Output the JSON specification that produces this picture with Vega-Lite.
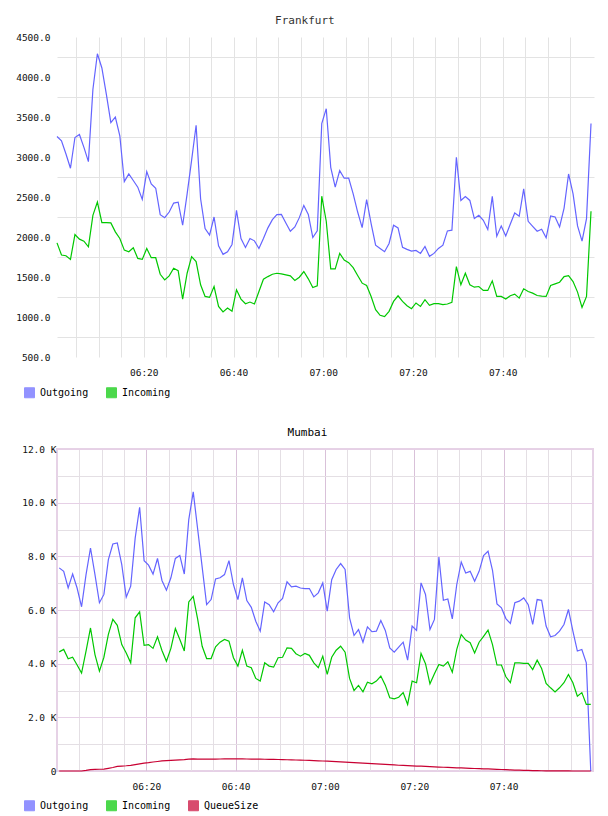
{
  "$schema": "https://vega.github.io/schema/vega-lite/v6.json",
  "background": "white",
  "padding": {"left": 15, "top": 15, "right": 10, "bottom": 10},
  "spacing": 26,
  "resolve": {
    "scale": {"stroke": "independent", "fill": "independent", "x": "independent", "y": "independent"},
    "legend": {"fill": "independent", "stroke": "independent"}
  },
  "config": {
    "font": "DejaVu Sans Mono",
    "view": {"stroke": null},
    "axis": {
      "labelFont": "DejaVu Sans Mono",
      "labelFontSize": 9.5,
      "labelColor": "#111111",
      "ticks": false,
      "domain": false,
      "labelOverlap": false,
      "labelFlush": false
    },
    "title": {
      "font": "DejaVu Sans Mono",
      "fontSize": 11,
      "fontWeight": "normal",
      "anchor": "middle"
    },
    "legend": {
      "orient": "none",
      "direction": "horizontal",
      "symbolType": "square",
      "symbolSize": 100,
      "symbolStrokeColor": "#8c8c8c",
      "symbolStrokeWidth": 1,
      "labelFont": "DejaVu Sans Mono",
      "labelFontSize": 10,
      "labelColor": "#000000",
      "labelOffset": 5
    }
  },
  "vconcat": [
    {
      "title": {"text": "Frankfurt", "color": "#333333", "offset": 6, "frame": "bounds"},
      "width": 537,
      "height": 320,
      "data": {
        "values": [
          {"time": "2024-01-01T06:00:40", "Outgoing": 3256, "Incoming": 1927},
          {"time": "2024-01-01T06:01:40", "Outgoing": 3203, "Incoming": 1774},
          {"time": "2024-01-01T06:02:40", "Outgoing": 3037, "Incoming": 1766},
          {"time": "2024-01-01T06:03:40", "Outgoing": 2859, "Incoming": 1720},
          {"time": "2024-01-01T06:04:40", "Outgoing": 3244, "Incoming": 2031},
          {"time": "2024-01-01T06:05:40", "Outgoing": 3281, "Incoming": 1973},
          {"time": "2024-01-01T06:06:40", "Outgoing": 3120, "Incoming": 1948},
          {"time": "2024-01-01T06:07:40", "Outgoing": 2942, "Incoming": 1878},
          {"time": "2024-01-01T06:08:40", "Outgoing": 3844, "Incoming": 2271},
          {"time": "2024-01-01T06:09:40", "Outgoing": 4291, "Incoming": 2437},
          {"time": "2024-01-01T06:10:40", "Outgoing": 4113, "Incoming": 2180},
          {"time": "2024-01-01T06:11:40", "Outgoing": 3782, "Incoming": 2180},
          {"time": "2024-01-01T06:12:40", "Outgoing": 3430, "Incoming": 2176},
          {"time": "2024-01-01T06:13:40", "Outgoing": 3500, "Incoming": 2064},
          {"time": "2024-01-01T06:14:40", "Outgoing": 3265, "Incoming": 1981},
          {"time": "2024-01-01T06:15:40", "Outgoing": 2693, "Incoming": 1836},
          {"time": "2024-01-01T06:16:40", "Outgoing": 2789, "Incoming": 1816},
          {"time": "2024-01-01T06:17:40", "Outgoing": 2706, "Incoming": 1865},
          {"time": "2024-01-01T06:18:40", "Outgoing": 2623, "Incoming": 1733},
          {"time": "2024-01-01T06:19:40", "Outgoing": 2470, "Incoming": 1720},
          {"time": "2024-01-01T06:20:40", "Outgoing": 2818, "Incoming": 1857},
          {"time": "2024-01-01T06:21:40", "Outgoing": 2664, "Incoming": 1741},
          {"time": "2024-01-01T06:22:40", "Outgoing": 2610, "Incoming": 1741},
          {"time": "2024-01-01T06:23:40", "Outgoing": 2279, "Incoming": 1534},
          {"time": "2024-01-01T06:24:40", "Outgoing": 2242, "Incoming": 1464},
          {"time": "2024-01-01T06:25:40", "Outgoing": 2312, "Incoming": 1514},
          {"time": "2024-01-01T06:26:40", "Outgoing": 2424, "Incoming": 1609},
          {"time": "2024-01-01T06:27:40", "Outgoing": 2436, "Incoming": 1580},
          {"time": "2024-01-01T06:28:40", "Outgoing": 2147, "Incoming": 1224},
          {"time": "2024-01-01T06:29:40", "Outgoing": 2540, "Incoming": 1547},
          {"time": "2024-01-01T06:30:40", "Outgoing": 2960, "Incoming": 1754},
          {"time": "2024-01-01T06:31:40", "Outgoing": 3397, "Incoming": 1692},
          {"time": "2024-01-01T06:32:40", "Outgoing": 2478, "Incoming": 1402},
          {"time": "2024-01-01T06:33:40", "Outgoing": 2106, "Incoming": 1257},
          {"time": "2024-01-01T06:34:40", "Outgoing": 2023, "Incoming": 1245},
          {"time": "2024-01-01T06:35:40", "Outgoing": 2250, "Incoming": 1381},
          {"time": "2024-01-01T06:36:40", "Outgoing": 1890, "Incoming": 1133},
          {"time": "2024-01-01T06:37:40", "Outgoing": 1783, "Incoming": 1063},
          {"time": "2024-01-01T06:38:40", "Outgoing": 1816, "Incoming": 1112},
          {"time": "2024-01-01T06:39:40", "Outgoing": 1907, "Incoming": 1071},
          {"time": "2024-01-01T06:40:40", "Outgoing": 2333, "Incoming": 1340},
          {"time": "2024-01-01T06:41:40", "Outgoing": 1981, "Incoming": 1224},
          {"time": "2024-01-01T06:42:40", "Outgoing": 1870, "Incoming": 1166},
          {"time": "2024-01-01T06:43:40", "Outgoing": 1981, "Incoming": 1187},
          {"time": "2024-01-01T06:44:40", "Outgoing": 1952, "Incoming": 1162},
          {"time": "2024-01-01T06:45:40", "Outgoing": 1857, "Incoming": 1319},
          {"time": "2024-01-01T06:46:40", "Outgoing": 1981, "Incoming": 1472},
          {"time": "2024-01-01T06:47:40", "Outgoing": 2114, "Incoming": 1505},
          {"time": "2024-01-01T06:48:40", "Outgoing": 2217, "Incoming": 1534},
          {"time": "2024-01-01T06:49:40", "Outgoing": 2279, "Incoming": 1547},
          {"time": "2024-01-01T06:50:40", "Outgoing": 2283, "Incoming": 1538},
          {"time": "2024-01-01T06:51:40", "Outgoing": 2176, "Incoming": 1526},
          {"time": "2024-01-01T06:52:40", "Outgoing": 2072, "Incoming": 1514},
          {"time": "2024-01-01T06:53:40", "Outgoing": 2126, "Incoming": 1456},
          {"time": "2024-01-01T06:54:40", "Outgoing": 2242, "Incoming": 1497},
          {"time": "2024-01-01T06:55:40", "Outgoing": 2395, "Incoming": 1568},
          {"time": "2024-01-01T06:56:40", "Outgoing": 2283, "Incoming": 1477},
          {"time": "2024-01-01T06:57:40", "Outgoing": 1994, "Incoming": 1369},
          {"time": "2024-01-01T06:58:40", "Outgoing": 2077, "Incoming": 1390},
          {"time": "2024-01-01T06:59:40", "Outgoing": 3418, "Incoming": 2510},
          {"time": "2024-01-01T07:00:40", "Outgoing": 3604, "Incoming": 2197},
          {"time": "2024-01-01T07:01:40", "Outgoing": 2871, "Incoming": 1601},
          {"time": "2024-01-01T07:02:40", "Outgoing": 2623, "Incoming": 1601},
          {"time": "2024-01-01T07:03:40", "Outgoing": 2830, "Incoming": 1795},
          {"time": "2024-01-01T07:04:40", "Outgoing": 2735, "Incoming": 1712},
          {"time": "2024-01-01T07:05:40", "Outgoing": 2735, "Incoming": 1679},
          {"time": "2024-01-01T07:06:40", "Outgoing": 2540, "Incoming": 1617},
          {"time": "2024-01-01T07:07:40", "Outgoing": 2312, "Incoming": 1518},
          {"time": "2024-01-01T07:08:40", "Outgoing": 2118, "Incoming": 1423},
          {"time": "2024-01-01T07:09:40", "Outgoing": 2466, "Incoming": 1394},
          {"time": "2024-01-01T07:10:40", "Outgoing": 2167, "Incoming": 1257},
          {"time": "2024-01-01T07:11:40", "Outgoing": 1898, "Incoming": 1091},
          {"time": "2024-01-01T07:12:40", "Outgoing": 1857, "Incoming": 1021},
          {"time": "2024-01-01T07:13:40", "Outgoing": 1816, "Incoming": 1004},
          {"time": "2024-01-01T07:14:40", "Outgoing": 1919, "Incoming": 1071},
          {"time": "2024-01-01T07:15:40", "Outgoing": 2147, "Incoming": 1195},
          {"time": "2024-01-01T07:16:40", "Outgoing": 2114, "Incoming": 1265},
          {"time": "2024-01-01T07:17:40", "Outgoing": 1870, "Incoming": 1195},
          {"time": "2024-01-01T07:18:40", "Outgoing": 1845, "Incoming": 1141},
          {"time": "2024-01-01T07:19:40", "Outgoing": 1824, "Incoming": 1104},
          {"time": "2024-01-01T07:20:40", "Outgoing": 1832, "Incoming": 1175},
          {"time": "2024-01-01T07:21:40", "Outgoing": 1795, "Incoming": 1133},
          {"time": "2024-01-01T07:22:40", "Outgoing": 1882, "Incoming": 1216},
          {"time": "2024-01-01T07:23:40", "Outgoing": 1758, "Incoming": 1145},
          {"time": "2024-01-01T07:24:40", "Outgoing": 1795, "Incoming": 1166},
          {"time": "2024-01-01T07:25:40", "Outgoing": 1857, "Incoming": 1166},
          {"time": "2024-01-01T07:26:40", "Outgoing": 1898, "Incoming": 1154},
          {"time": "2024-01-01T07:27:40", "Outgoing": 2076, "Incoming": 1162},
          {"time": "2024-01-01T07:28:40", "Outgoing": 2085, "Incoming": 1183},
          {"time": "2024-01-01T07:29:40", "Outgoing": 2995, "Incoming": 1630},
          {"time": "2024-01-01T07:30:40", "Outgoing": 2457, "Incoming": 1402},
          {"time": "2024-01-01T07:31:40", "Outgoing": 2507, "Incoming": 1547},
          {"time": "2024-01-01T07:32:40", "Outgoing": 2457, "Incoming": 1402},
          {"time": "2024-01-01T07:33:40", "Outgoing": 2230, "Incoming": 1373},
          {"time": "2024-01-01T07:34:40", "Outgoing": 2271, "Incoming": 1381},
          {"time": "2024-01-01T07:35:40", "Outgoing": 2209, "Incoming": 1332},
          {"time": "2024-01-01T07:36:40", "Outgoing": 2093, "Incoming": 1332},
          {"time": "2024-01-01T07:37:40", "Outgoing": 2507, "Incoming": 1452},
          {"time": "2024-01-01T07:38:40", "Outgoing": 2010, "Incoming": 1257},
          {"time": "2024-01-01T07:39:40", "Outgoing": 2139, "Incoming": 1257},
          {"time": "2024-01-01T07:40:40", "Outgoing": 2014, "Incoming": 1224},
          {"time": "2024-01-01T07:41:40", "Outgoing": 2159, "Incoming": 1265},
          {"time": "2024-01-01T07:42:40", "Outgoing": 2300, "Incoming": 1286},
          {"time": "2024-01-01T07:43:40", "Outgoing": 2259, "Incoming": 1236},
          {"time": "2024-01-01T07:44:40", "Outgoing": 2602, "Incoming": 1352},
          {"time": "2024-01-01T07:45:40", "Outgoing": 2196, "Incoming": 1319},
          {"time": "2024-01-01T07:46:40", "Outgoing": 2134, "Incoming": 1298},
          {"time": "2024-01-01T07:47:40", "Outgoing": 2072, "Incoming": 1269},
          {"time": "2024-01-01T07:48:40", "Outgoing": 2097, "Incoming": 1261},
          {"time": "2024-01-01T07:49:40", "Outgoing": 1990, "Incoming": 1257},
          {"time": "2024-01-01T07:50:40", "Outgoing": 2263, "Incoming": 1394},
          {"time": "2024-01-01T07:51:40", "Outgoing": 2250, "Incoming": 1414},
          {"time": "2024-01-01T07:52:40", "Outgoing": 2126, "Incoming": 1435},
          {"time": "2024-01-01T07:53:40", "Outgoing": 2362, "Incoming": 1505},
          {"time": "2024-01-01T07:54:40", "Outgoing": 2788, "Incoming": 1518},
          {"time": "2024-01-01T07:55:40", "Outgoing": 2540, "Incoming": 1443},
          {"time": "2024-01-01T07:56:40", "Outgoing": 2139, "Incoming": 1311},
          {"time": "2024-01-01T07:57:40", "Outgoing": 1948, "Incoming": 1120},
          {"time": "2024-01-01T07:58:40", "Outgoing": 2230, "Incoming": 1257},
          {"time": "2024-01-01T07:59:40", "Outgoing": 3418, "Incoming": 2321}
        ]
      },
      "transform": [{"fold": ["Outgoing", "Incoming"], "as": ["series", "value"]}],
      "encoding": {
        "x": {
          "field": "time",
          "type": "temporal",
          "title": null,
          "scale": {
            "domain": [
              {"year": 2024, "month": 1, "date": 1, "hours": 6, "minutes": 0, "seconds": 40},
              {"year": 2024, "month": 1, "date": 1, "hours": 8, "minutes": 0, "seconds": 20}
            ]
          },
          "axis": {
            "values": [
              {"year": 2024, "month": 1, "date": 1, "hours": 6, "minutes": 5},
              {"year": 2024, "month": 1, "date": 1, "hours": 6, "minutes": 10},
              {"year": 2024, "month": 1, "date": 1, "hours": 6, "minutes": 15},
              {"year": 2024, "month": 1, "date": 1, "hours": 6, "minutes": 20},
              {"year": 2024, "month": 1, "date": 1, "hours": 6, "minutes": 25},
              {"year": 2024, "month": 1, "date": 1, "hours": 6, "minutes": 30},
              {"year": 2024, "month": 1, "date": 1, "hours": 6, "minutes": 35},
              {"year": 2024, "month": 1, "date": 1, "hours": 6, "minutes": 40},
              {"year": 2024, "month": 1, "date": 1, "hours": 6, "minutes": 45},
              {"year": 2024, "month": 1, "date": 1, "hours": 6, "minutes": 50},
              {"year": 2024, "month": 1, "date": 1, "hours": 6, "minutes": 55},
              {"year": 2024, "month": 1, "date": 1, "hours": 7, "minutes": 0},
              {"year": 2024, "month": 1, "date": 1, "hours": 7, "minutes": 5},
              {"year": 2024, "month": 1, "date": 1, "hours": 7, "minutes": 10},
              {"year": 2024, "month": 1, "date": 1, "hours": 7, "minutes": 15},
              {"year": 2024, "month": 1, "date": 1, "hours": 7, "minutes": 20},
              {"year": 2024, "month": 1, "date": 1, "hours": 7, "minutes": 25},
              {"year": 2024, "month": 1, "date": 1, "hours": 7, "minutes": 30},
              {"year": 2024, "month": 1, "date": 1, "hours": 7, "minutes": 35},
              {"year": 2024, "month": 1, "date": 1, "hours": 7, "minutes": 40},
              {"year": 2024, "month": 1, "date": 1, "hours": 7, "minutes": 45},
              {"year": 2024, "month": 1, "date": 1, "hours": 7, "minutes": 50},
              {"year": 2024, "month": 1, "date": 1, "hours": 7, "minutes": 55}
            ],
            "labelExpr": "minutes(datum.value) % 20 == 0 ? timeFormat(datum.value, '%H:%M') : ''",
            "gridColor": "#e3e3e3",
            "labelPadding": 10
          }
        },
        "y": {
          "field": "value",
          "type": "quantitative",
          "title": null,
          "scale": {"domain": [500, 4500], "nice": false, "zero": false},
          "axis": {
            "values": [500, 750, 1000, 1250, 1500, 1750, 2000, 2250, 2500, 2750, 3000, 3250, 3500, 3750, 4000, 4250, 4500],
            "labelExpr": "datum.value % 500 == 0 ? format(datum.value, '.1f') : ''",
            "gridColor": {"condition": {"test": "datum.value % 500 == 0", "value": "transparent"}, "value": "#e3e3e3"},
            "labelPadding": 7
          }
        }
      },
      "layer": [
        {
          "mark": {"type": "line", "strokeWidth": 1.2},
          "encoding": {
            "stroke": {
              "field": "series",
              "type": "nominal",
              "title": null,
              "scale": {"domain": ["Outgoing", "Incoming"], "range": ["#6464ff", "#00c800"]},
              "legend": {"legendX": -33, "legendY": 350, "columnPadding": 15}
            }
          }
        },
        {
          "transform": [{"filter": "false"}],
          "mark": {"type": "square", "filled": true},
          "encoding": {
            "fill": {
              "field": "series",
              "type": "nominal",
              "title": null,
              "scale": {"domain": ["Outgoing", "Incoming"], "range": ["#6464ff", "#00c800"]},
              "legend": {"legendX": -33, "legendY": 350, "columnPadding": 15}
            }
          }
        }
      ]
    },
    {
      "title": {"text": "Mumbai", "color": "#000000", "offset": 6, "frame": "bounds"},
      "width": 536,
      "height": 322,
      "view": {"stroke": "#e6d2e6", "strokeWidth": 2},
      "data": {
        "values": [
          {"time": "2024-01-01T06:00:30", "Outgoing": 7570, "Incoming": 4440, "QueueSize": 0},
          {"time": "2024-01-01T06:01:30", "Outgoing": 7440, "Incoming": 4530, "QueueSize": 0},
          {"time": "2024-01-01T06:02:30", "Outgoing": 6820, "Incoming": 4180, "QueueSize": 0},
          {"time": "2024-01-01T06:03:30", "Outgoing": 7340, "Incoming": 4240, "QueueSize": 0},
          {"time": "2024-01-01T06:04:30", "Outgoing": 6820, "Incoming": 3950, "QueueSize": 0},
          {"time": "2024-01-01T06:05:30", "Outgoing": 6120, "Incoming": 3650, "QueueSize": 0},
          {"time": "2024-01-01T06:06:30", "Outgoing": 7320, "Incoming": 4470, "QueueSize": 20},
          {"time": "2024-01-01T06:07:30", "Outgoing": 8310, "Incoming": 5330, "QueueSize": 50},
          {"time": "2024-01-01T06:08:30", "Outgoing": 7320, "Incoming": 4340, "QueueSize": 60},
          {"time": "2024-01-01T06:09:30", "Outgoing": 6270, "Incoming": 3720, "QueueSize": 65},
          {"time": "2024-01-01T06:10:30", "Outgoing": 6580, "Incoming": 4240, "QueueSize": 70},
          {"time": "2024-01-01T06:11:30", "Outgoing": 7880, "Incoming": 5090, "QueueSize": 100},
          {"time": "2024-01-01T06:12:30", "Outgoing": 8460, "Incoming": 5650, "QueueSize": 130},
          {"time": "2024-01-01T06:13:30", "Outgoing": 8500, "Incoming": 5430, "QueueSize": 170},
          {"time": "2024-01-01T06:14:30", "Outgoing": 7690, "Incoming": 4710, "QueueSize": 185},
          {"time": "2024-01-01T06:15:30", "Outgoing": 6480, "Incoming": 4400, "QueueSize": 195},
          {"time": "2024-01-01T06:16:30", "Outgoing": 6890, "Incoming": 4030, "QueueSize": 210},
          {"time": "2024-01-01T06:17:30", "Outgoing": 8680, "Incoming": 5710, "QueueSize": 240},
          {"time": "2024-01-01T06:18:30", "Outgoing": 9830, "Incoming": 5930, "QueueSize": 265},
          {"time": "2024-01-01T06:19:30", "Outgoing": 7840, "Incoming": 4680, "QueueSize": 290},
          {"time": "2024-01-01T06:20:30", "Outgoing": 7670, "Incoming": 4710, "QueueSize": 310},
          {"time": "2024-01-01T06:21:30", "Outgoing": 7340, "Incoming": 4570, "QueueSize": 335},
          {"time": "2024-01-01T06:22:30", "Outgoing": 7920, "Incoming": 5000, "QueueSize": 355},
          {"time": "2024-01-01T06:23:30", "Outgoing": 7100, "Incoming": 4490, "QueueSize": 375},
          {"time": "2024-01-01T06:24:30", "Outgoing": 6740, "Incoming": 4090, "QueueSize": 385},
          {"time": "2024-01-01T06:25:30", "Outgoing": 7200, "Incoming": 4570, "QueueSize": 395},
          {"time": "2024-01-01T06:26:30", "Outgoing": 7920, "Incoming": 5310, "QueueSize": 405},
          {"time": "2024-01-01T06:27:30", "Outgoing": 8030, "Incoming": 4900, "QueueSize": 415},
          {"time": "2024-01-01T06:28:30", "Outgoing": 7340, "Incoming": 4470, "QueueSize": 425},
          {"time": "2024-01-01T06:29:30", "Outgoing": 9370, "Incoming": 6300, "QueueSize": 440},
          {"time": "2024-01-01T06:30:30", "Outgoing": 10400, "Incoming": 6510, "QueueSize": 450},
          {"time": "2024-01-01T06:31:30", "Outgoing": 9000, "Incoming": 5650, "QueueSize": 445},
          {"time": "2024-01-01T06:32:30", "Outgoing": 7600, "Incoming": 4650, "QueueSize": 440},
          {"time": "2024-01-01T06:33:30", "Outgoing": 6200, "Incoming": 4190, "QueueSize": 440},
          {"time": "2024-01-01T06:34:30", "Outgoing": 6390, "Incoming": 4190, "QueueSize": 440},
          {"time": "2024-01-01T06:35:30", "Outgoing": 7160, "Incoming": 4630, "QueueSize": 445},
          {"time": "2024-01-01T06:36:30", "Outgoing": 7200, "Incoming": 4800, "QueueSize": 448},
          {"time": "2024-01-01T06:37:30", "Outgoing": 7320, "Incoming": 4900, "QueueSize": 450},
          {"time": "2024-01-01T06:38:30", "Outgoing": 7840, "Incoming": 4840, "QueueSize": 452},
          {"time": "2024-01-01T06:39:30", "Outgoing": 6950, "Incoming": 4220, "QueueSize": 455},
          {"time": "2024-01-01T06:40:30", "Outgoing": 6390, "Incoming": 3910, "QueueSize": 452},
          {"time": "2024-01-01T06:41:30", "Outgoing": 7200, "Incoming": 4500, "QueueSize": 450},
          {"time": "2024-01-01T06:42:30", "Outgoing": 6350, "Incoming": 3910, "QueueSize": 448},
          {"time": "2024-01-01T06:43:30", "Outgoing": 6100, "Incoming": 3850, "QueueSize": 445},
          {"time": "2024-01-01T06:44:30", "Outgoing": 5580, "Incoming": 3450, "QueueSize": 442},
          {"time": "2024-01-01T06:45:30", "Outgoing": 5210, "Incoming": 3350, "QueueSize": 440},
          {"time": "2024-01-01T06:46:30", "Outgoing": 6300, "Incoming": 4030, "QueueSize": 438},
          {"time": "2024-01-01T06:47:30", "Outgoing": 6200, "Incoming": 3910, "QueueSize": 435},
          {"time": "2024-01-01T06:48:30", "Outgoing": 5930, "Incoming": 3870, "QueueSize": 432},
          {"time": "2024-01-01T06:49:30", "Outgoing": 6270, "Incoming": 4220, "QueueSize": 428},
          {"time": "2024-01-01T06:50:30", "Outgoing": 6430, "Incoming": 4240, "QueueSize": 425},
          {"time": "2024-01-01T06:51:30", "Outgoing": 7050, "Incoming": 4590, "QueueSize": 420},
          {"time": "2024-01-01T06:52:30", "Outgoing": 6860, "Incoming": 4570, "QueueSize": 415},
          {"time": "2024-01-01T06:53:30", "Outgoing": 6890, "Incoming": 4370, "QueueSize": 410},
          {"time": "2024-01-01T06:54:30", "Outgoing": 6820, "Incoming": 4280, "QueueSize": 405},
          {"time": "2024-01-01T06:55:30", "Outgoing": 6800, "Incoming": 4380, "QueueSize": 400},
          {"time": "2024-01-01T06:56:30", "Outgoing": 6800, "Incoming": 4310, "QueueSize": 393},
          {"time": "2024-01-01T06:57:30", "Outgoing": 6490, "Incoming": 4030, "QueueSize": 386},
          {"time": "2024-01-01T06:58:30", "Outgoing": 6640, "Incoming": 3850, "QueueSize": 379},
          {"time": "2024-01-01T06:59:30", "Outgoing": 7010, "Incoming": 4280, "QueueSize": 372},
          {"time": "2024-01-01T07:00:30", "Outgoing": 5960, "Incoming": 3600, "QueueSize": 365},
          {"time": "2024-01-01T07:01:30", "Outgoing": 7130, "Incoming": 4240, "QueueSize": 358},
          {"time": "2024-01-01T07:02:30", "Outgoing": 7510, "Incoming": 4500, "QueueSize": 350},
          {"time": "2024-01-01T07:03:30", "Outgoing": 7730, "Incoming": 4650, "QueueSize": 340},
          {"time": "2024-01-01T07:04:30", "Outgoing": 7510, "Incoming": 4430, "QueueSize": 330},
          {"time": "2024-01-01T07:05:30", "Outgoing": 5710, "Incoming": 3450, "QueueSize": 320},
          {"time": "2024-01-01T07:06:30", "Outgoing": 5050, "Incoming": 3000, "QueueSize": 310},
          {"time": "2024-01-01T07:07:30", "Outgoing": 5270, "Incoming": 3190, "QueueSize": 300},
          {"time": "2024-01-01T07:08:30", "Outgoing": 4800, "Incoming": 2950, "QueueSize": 290},
          {"time": "2024-01-01T07:09:30", "Outgoing": 5370, "Incoming": 3310, "QueueSize": 282},
          {"time": "2024-01-01T07:10:30", "Outgoing": 5190, "Incoming": 3250, "QueueSize": 275},
          {"time": "2024-01-01T07:11:30", "Outgoing": 5210, "Incoming": 3350, "QueueSize": 265},
          {"time": "2024-01-01T07:12:30", "Outgoing": 5610, "Incoming": 3540, "QueueSize": 255},
          {"time": "2024-01-01T07:13:30", "Outgoing": 5240, "Incoming": 3200, "QueueSize": 245},
          {"time": "2024-01-01T07:14:30", "Outgoing": 4590, "Incoming": 2730, "QueueSize": 235},
          {"time": "2024-01-01T07:15:30", "Outgoing": 4430, "Incoming": 2690, "QueueSize": 225},
          {"time": "2024-01-01T07:16:30", "Outgoing": 4620, "Incoming": 2750, "QueueSize": 215},
          {"time": "2024-01-01T07:17:30", "Outgoing": 4800, "Incoming": 2920, "QueueSize": 210},
          {"time": "2024-01-01T07:18:30", "Outgoing": 4130, "Incoming": 2480, "QueueSize": 200},
          {"time": "2024-01-01T07:19:30", "Outgoing": 5400, "Incoming": 3350, "QueueSize": 192},
          {"time": "2024-01-01T07:20:30", "Outgoing": 5240, "Incoming": 3290, "QueueSize": 185},
          {"time": "2024-01-01T07:21:30", "Outgoing": 7010, "Incoming": 4380, "QueueSize": 178},
          {"time": "2024-01-01T07:22:30", "Outgoing": 6580, "Incoming": 4000, "QueueSize": 170},
          {"time": "2024-01-01T07:23:30", "Outgoing": 5270, "Incoming": 3250, "QueueSize": 162},
          {"time": "2024-01-01T07:24:30", "Outgoing": 5650, "Incoming": 3620, "QueueSize": 155},
          {"time": "2024-01-01T07:25:30", "Outgoing": 7970, "Incoming": 3970, "QueueSize": 148},
          {"time": "2024-01-01T07:26:30", "Outgoing": 6360, "Incoming": 3910, "QueueSize": 140},
          {"time": "2024-01-01T07:27:30", "Outgoing": 6410, "Incoming": 4070, "QueueSize": 133},
          {"time": "2024-01-01T07:28:30", "Outgoing": 5670, "Incoming": 3680, "QueueSize": 127},
          {"time": "2024-01-01T07:29:30", "Outgoing": 6950, "Incoming": 4530, "QueueSize": 120},
          {"time": "2024-01-01T07:30:30", "Outgoing": 7790, "Incoming": 5090, "QueueSize": 113},
          {"time": "2024-01-01T07:31:30", "Outgoing": 7380, "Incoming": 4880, "QueueSize": 107},
          {"time": "2024-01-01T07:32:30", "Outgoing": 7440, "Incoming": 4780, "QueueSize": 100},
          {"time": "2024-01-01T07:33:30", "Outgoing": 7070, "Incoming": 4400, "QueueSize": 94},
          {"time": "2024-01-01T07:34:30", "Outgoing": 7440, "Incoming": 4800, "QueueSize": 88},
          {"time": "2024-01-01T07:35:30", "Outgoing": 8030, "Incoming": 5020, "QueueSize": 82},
          {"time": "2024-01-01T07:36:30", "Outgoing": 8190, "Incoming": 5250, "QueueSize": 76},
          {"time": "2024-01-01T07:37:30", "Outgoing": 7480, "Incoming": 4710, "QueueSize": 70},
          {"time": "2024-01-01T07:38:30", "Outgoing": 6230, "Incoming": 3950, "QueueSize": 63},
          {"time": "2024-01-01T07:39:30", "Outgoing": 6080, "Incoming": 3950, "QueueSize": 55},
          {"time": "2024-01-01T07:40:30", "Outgoing": 5680, "Incoming": 3510, "QueueSize": 48},
          {"time": "2024-01-01T07:41:30", "Outgoing": 5500, "Incoming": 3290, "QueueSize": 42},
          {"time": "2024-01-01T07:42:30", "Outgoing": 6270, "Incoming": 4030, "QueueSize": 36},
          {"time": "2024-01-01T07:43:30", "Outgoing": 6330, "Incoming": 4030, "QueueSize": 30},
          {"time": "2024-01-01T07:44:30", "Outgoing": 6450, "Incoming": 4010, "QueueSize": 25},
          {"time": "2024-01-01T07:45:30", "Outgoing": 6200, "Incoming": 4010, "QueueSize": 20},
          {"time": "2024-01-01T07:46:30", "Outgoing": 5460, "Incoming": 3780, "QueueSize": 15},
          {"time": "2024-01-01T07:47:30", "Outgoing": 6390, "Incoming": 4130, "QueueSize": 12},
          {"time": "2024-01-01T07:48:30", "Outgoing": 6360, "Incoming": 3820, "QueueSize": 9},
          {"time": "2024-01-01T07:49:30", "Outgoing": 5400, "Incoming": 3260, "QueueSize": 7},
          {"time": "2024-01-01T07:50:30", "Outgoing": 5000, "Incoming": 3100, "QueueSize": 5},
          {"time": "2024-01-01T07:51:30", "Outgoing": 5050, "Incoming": 2950, "QueueSize": 4},
          {"time": "2024-01-01T07:52:30", "Outgoing": 5210, "Incoming": 3100, "QueueSize": 3},
          {"time": "2024-01-01T07:53:30", "Outgoing": 5460, "Incoming": 3290, "QueueSize": 2},
          {"time": "2024-01-01T07:54:30", "Outgoing": 6020, "Incoming": 3600, "QueueSize": 1},
          {"time": "2024-01-01T07:55:30", "Outgoing": 5210, "Incoming": 3290, "QueueSize": 0},
          {"time": "2024-01-01T07:56:30", "Outgoing": 4470, "Incoming": 2790, "QueueSize": 0},
          {"time": "2024-01-01T07:57:30", "Outgoing": 4530, "Incoming": 2920, "QueueSize": 0},
          {"time": "2024-01-01T07:58:30", "Outgoing": 4030, "Incoming": 2480, "QueueSize": 0},
          {"time": "2024-01-01T07:59:30", "Outgoing": 0, "Incoming": 2480, "QueueSize": 0}
        ]
      },
      "transform": [{"fold": ["Outgoing", "Incoming", "QueueSize"], "as": ["series", "value"]}],
      "encoding": {
        "x": {
          "field": "time",
          "type": "temporal",
          "title": null,
          "scale": {
            "domain": [
              {"year": 2024, "month": 1, "date": 1, "hours": 6, "minutes": 0},
              {"year": 2024, "month": 1, "date": 1, "hours": 8, "minutes": 0}
            ]
          },
          "axis": {
            "values": [
              {"year": 2024, "month": 1, "date": 1, "hours": 6, "minutes": 5},
              {"year": 2024, "month": 1, "date": 1, "hours": 6, "minutes": 10},
              {"year": 2024, "month": 1, "date": 1, "hours": 6, "minutes": 15},
              {"year": 2024, "month": 1, "date": 1, "hours": 6, "minutes": 20},
              {"year": 2024, "month": 1, "date": 1, "hours": 6, "minutes": 25},
              {"year": 2024, "month": 1, "date": 1, "hours": 6, "minutes": 30},
              {"year": 2024, "month": 1, "date": 1, "hours": 6, "minutes": 35},
              {"year": 2024, "month": 1, "date": 1, "hours": 6, "minutes": 40},
              {"year": 2024, "month": 1, "date": 1, "hours": 6, "minutes": 45},
              {"year": 2024, "month": 1, "date": 1, "hours": 6, "minutes": 50},
              {"year": 2024, "month": 1, "date": 1, "hours": 6, "minutes": 55},
              {"year": 2024, "month": 1, "date": 1, "hours": 7, "minutes": 0},
              {"year": 2024, "month": 1, "date": 1, "hours": 7, "minutes": 5},
              {"year": 2024, "month": 1, "date": 1, "hours": 7, "minutes": 10},
              {"year": 2024, "month": 1, "date": 1, "hours": 7, "minutes": 15},
              {"year": 2024, "month": 1, "date": 1, "hours": 7, "minutes": 20},
              {"year": 2024, "month": 1, "date": 1, "hours": 7, "minutes": 25},
              {"year": 2024, "month": 1, "date": 1, "hours": 7, "minutes": 30},
              {"year": 2024, "month": 1, "date": 1, "hours": 7, "minutes": 35},
              {"year": 2024, "month": 1, "date": 1, "hours": 7, "minutes": 40},
              {"year": 2024, "month": 1, "date": 1, "hours": 7, "minutes": 45},
              {"year": 2024, "month": 1, "date": 1, "hours": 7, "minutes": 50},
              {"year": 2024, "month": 1, "date": 1, "hours": 7, "minutes": 55}
            ],
            "labelExpr": "minutes(datum.value) % 20 == 0 ? timeFormat(datum.value, '%H:%M') : ''",
            "gridColor": {"condition": {"test": "minutes(datum.value) % 20 == 0", "value": "#d9c1d9"}, "value": "#e4dfe4"},
            "labelPadding": 10
          }
        },
        "y": {
          "field": "value",
          "type": "quantitative",
          "title": null,
          "scale": {"domain": [0, 12000], "nice": false},
          "axis": {
            "values": [0, 1000, 2000, 3000, 4000, 5000, 6000, 7000, 8000, 9000, 10000, 11000, 12000],
            "labelExpr": "datum.value % 2000 != 0 ? '' : (datum.value == 0 ? '0\u00a0' : format(datum.value / 1000, '.1f') + ' K')",
            "gridColor": {"condition": {"test": "datum.value % 2000 == 0", "value": "#e6d0e6"}, "value": "#e4dfe4"},
            "labelPadding": 1
          }
        }
      },
      "layer": [
        {
          "mark": {"type": "line", "strokeWidth": 1.2},
          "encoding": {
            "stroke": {
              "field": "series",
              "type": "nominal",
              "title": null,
              "scale": {"domain": ["Outgoing", "Incoming", "QueueSize"], "range": ["#6464ff", "#00c800", "#c80032"]},
              "legend": {"legendX": -33, "legendY": 351, "columnPadding": 15}
            }
          }
        },
        {
          "transform": [{"filter": "false"}],
          "mark": {"type": "square", "filled": true},
          "encoding": {
            "fill": {
              "field": "series",
              "type": "nominal",
              "title": null,
              "scale": {"domain": ["Outgoing", "Incoming", "QueueSize"], "range": ["#6464ff", "#00c800", "#c80032"]},
              "legend": {"legendX": -33, "legendY": 351, "columnPadding": 15}
            }
          }
        }
      ]
    }
  ]
}
